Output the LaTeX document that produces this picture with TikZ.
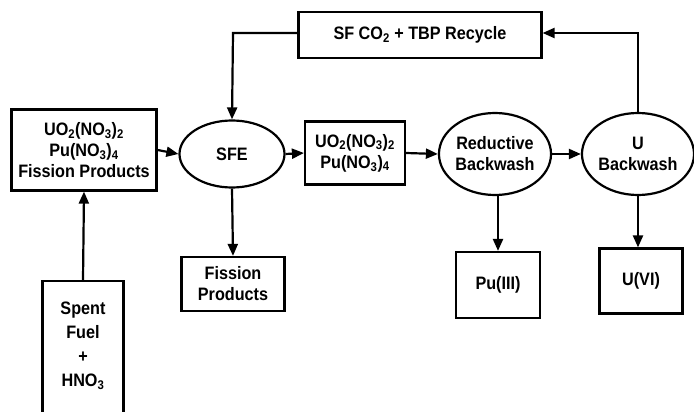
\documentclass[tikz,border=0pt]{standalone}
\usepackage{fontspec}
\setmainfont{Liberation Sans}[FakeStretch=0.9]
\usetikzlibrary{shapes.geometric,arrows.meta}
\newcommand{\sbs}[1]{\textsubscript{#1}}
\tikzset{
  txt/.style={font=\fontsize{18}{21}\selectfont\bfseries},
  box/.style={txt,draw,line width=2.2pt,rectangle,inner sep=0pt,align=center},
  oval/.style={txt,draw,line width=2.2pt,ellipse,inner sep=0pt,align=center},
  flow/.style={line width=2.2pt,-{Triangle[length=12pt,width=10pt]}}
}
\begin{document}
\begin{tikzpicture}[x=1pt,y=-1pt]
\useasboundingbox (0,0) rectangle (694,412);
\clip (0,0) rectangle (694,412);
\node[box,minimum width=145pt,minimum height=81pt] (feed) at (84,150) {UO\sbs{2}(NO\sbs{3})\sbs{2}\\Pu(NO\sbs{3})\sbs{4}\\Fission Products};
\node[box,minimum width=81pt,minimum height=160pt,anchor=north] (spent) at (83,280) {};
\node[txt,align=center] (spenttxt) at (83,346) {Spent\\[3pt]Fuel\\[3pt]+\\[3pt]HNO\sbs{3}};
\node[oval,minimum width=105pt,minimum height=67pt] (sfe) at (232,154) {SFE};
\node[box,minimum width=100pt,minimum height=63pt] (mid) at (355,153) {UO\sbs{2}(NO\sbs{3})\sbs{2}\\Pu(NO\sbs{3})\sbs{4}};
\node[oval,minimum width=105pt,minimum height=82pt] (red) at (495,154) {Reductive\\Backwash};
\node[oval,minimum width=103pt,minimum height=82pt] (ub) at (638,154) {U\\Backwash};
\node[box,minimum width=243pt,minimum height=46pt] (rec) at (420,35) {SF CO\sbs{2} + TBP Recycle};
\node[box,minimum width=103pt,minimum height=54pt] (fp) at (233,284) {Fission\\Products};
\node[box,minimum width=84pt,minimum height=66pt] (pu) at (498,285) {Pu(III)};
\node[box,minimum width=83pt,minimum height=65pt] (u6) at (641,281) {U(VI)};
\coordinate (c1) at (638,33);
\coordinate (c2) at (233,33);
\draw[flow] (spent.north) -- (feed.south);
\draw[flow] (feed.east) -- (sfe.west);
\draw[flow] (sfe.east) -- (mid.west);
\draw[flow] (mid.east) -- (red.west);
\draw[flow] (red.east) -- (ub.west);
\draw[flow] (sfe.south) -- (fp.north);
\draw[flow] (red.south -| pu.north) -- (pu.north);
\draw[flow] (ub.south) -- (ub.south |- u6.north);
\draw[flow] (ub.north) -- (c1) -- (rec.east |- c1);
\draw[flow] (rec.west |- c2) -- (c2) -- (sfe.north);
\end{tikzpicture}
\end{document}
